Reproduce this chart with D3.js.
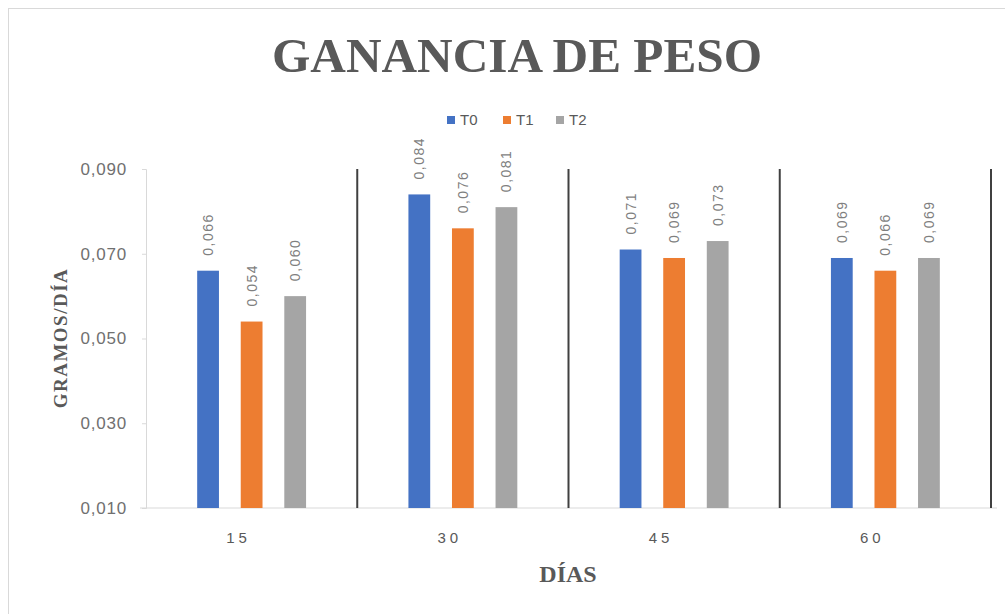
<!DOCTYPE html>
<html>
<head>
<meta charset="utf-8">
<script src="https://cdn.jsdelivr.net/npm/d3@7"></script>
<style>
  body { margin: 0; background: #fff; }
  svg { display: block; }
</style>
</head>
<body>
<div id="chart"></div>
<script>
// data
const dias = ['15', '30', '45', '60'];
const series = ['T0', 'T1', 'T2'];
const t0 = [0.066, 0.084, 0.071, 0.069];
const t1 = [0.054, 0.076, 0.069, 0.066];
const t2 = [0.060, 0.081, 0.073, 0.069];
const yTicks = [0.010, 0.030, 0.050, 0.070, 0.090];
const colors = ['#4472C4', '#ED7D31', '#A5A5A5'];

const values = [t0, t1, t2];
const width = 1005, height = 614;
const margin = {top: 169, right: 14, bottom: 106, left: 146};

const svg = d3.select('#chart').append('svg')
  .attr('width', width)
  .attr('height', height);

// outer chart frame
svg.append('rect')
  .attr('x', 8.5).attr('y', 8.5)
  .attr('width', 1020).attr('height', 630)
  .attr('fill', '#fff')
  .attr('stroke', '#d9d9d9');

const x0 = d3.scaleBand()
  .domain(dias)
  .range([margin.left, width - margin.right]);

const x1 = d3.scaleBand()
  .domain(series)
  .range([0, x0.bandwidth()])
  .paddingInner(0.5)
  .paddingOuter(1.175);

const y = d3.scaleLinear()
  .domain([0.010, 0.090])
  .range([height - margin.bottom, margin.top]);

const fmt = v => d3.format('.3f')(v).replace('.', ',');

// y axis
const yAxis = svg.append('g')
  .attr('transform', 'translate(' + margin.left + ',0)')
  .call(d3.axisLeft(y).tickValues(yTicks).tickSize(4).tickPadding(15).tickFormat(fmt));
yAxis.select('.domain').attr('stroke', '#d9d9d9');
yAxis.selectAll('.tick line').attr('stroke', '#d9d9d9');
yAxis.selectAll('.tick text')
  .attr('fill', '#707070')
  .style('font-family', 'Liberation Sans, sans-serif')
  .style('font-size', '17px')
  .style('letter-spacing', '0.8px');

// x axis baseline
svg.append('line')
  .attr('x1', margin.left - 6).attr('x2', width - 8)
  .attr('y1', y(0.010)).attr('y2', y(0.010))
  .attr('stroke', '#d9d9d9');

// category labels
svg.append('g').selectAll('text')
  .data(dias)
  .join('text')
  .attr('x', d => x0(d) + x0.bandwidth() / 2 - 13)
  .attr('y', y(0.010) + 35)
  .attr('text-anchor', 'middle')
  .attr('fill', '#595959')
  .style('font-family', 'Liberation Sans, sans-serif')
  .style('font-size', '15px')
  .style('letter-spacing', '4px')
  .text(d => d);

// dark separators on the right edge of each group
svg.append('g').selectAll('line')
  .data(dias)
  .join('line')
  .attr('x1', d => x0(d) + x0.bandwidth())
  .attr('x2', d => x0(d) + x0.bandwidth())
  .attr('y1', y(0.090))
  .attr('y2', y(0.010))
  .attr('stroke', '#404040')
  .attr('stroke-width', 2);

// bars
const rows = [];
dias.forEach((d, i) => {
  series.forEach((s, j) => rows.push({dia: d, s: s, j: j, v: values[j][i]}));
});

svg.append('g').selectAll('rect')
  .data(rows)
  .join('rect')
  .attr('x', d => x0(d.dia) + x1(d.s))
  .attr('y', d => y(d.v))
  .attr('width', x1.bandwidth())
  .attr('height', d => y(0.010) - y(d.v))
  .attr('fill', d => colors[d.j]);

// value labels, rotated
svg.append('g').selectAll('text')
  .data(rows)
  .join('text')
  .attr('transform', d => 'translate(' + (x0(d.dia) + x1(d.s) + x1.bandwidth() / 2 + 5) + ',' + (y(d.v) - 15) + ') rotate(-90)')
  .attr('fill', '#7f7f7f')
  .style('font-family', 'Liberation Sans, sans-serif')
  .style('font-size', '14px')
  .style('letter-spacing', '1.5px')
  .text(d => fmt(d.v));

// title
svg.append('text')
  .attr('x', 517).attr('y', 72)
  .attr('text-anchor', 'middle')
  .attr('fill', '#595959')
  .attr('textLength', 490)
  .attr('lengthAdjust', 'spacingAndGlyphs')
  .style('font-family', 'Liberation Serif, serif')
  .style('font-weight', 'bold')
  .style('font-size', '48px')
  .text('GANANCIA DE PESO');

// legend
const legend = svg.append('g').selectAll('g')
  .data(series)
  .join('g')
  .attr('transform', (d, i) => 'translate(' + [447, 503, 556][i] + ',116)');
legend.append('rect')
  .attr('width', 8).attr('height', 8)
  .attr('fill', (d, i) => colors[i]);
legend.append('text')
  .attr('x', 13).attr('y', 9)
  .attr('fill', '#595959')
  .style('font-family', 'Liberation Sans, sans-serif')
  .style('font-size', '15px')
  .text(d => d);

// axis titles
svg.append('text')
  .attr('transform', 'translate(67,338) rotate(-90)')
  .attr('text-anchor', 'middle')
  .attr('fill', '#595959')
  .style('font-family', 'Liberation Serif, serif')
  .style('font-weight', 'bold')
  .style('font-size', '19px')
  .style('letter-spacing', '1.5px')
  .text('GRAMOS/DÍA');

svg.append('text')
  .attr('x', 568).attr('y', 582)
  .attr('text-anchor', 'middle')
  .attr('fill', '#595959')
  .style('font-family', 'Liberation Serif, serif')
  .style('font-weight', 'bold')
  .style('font-size', '24px')
  .text('DÍAS');
</script>
</body>
</html>
